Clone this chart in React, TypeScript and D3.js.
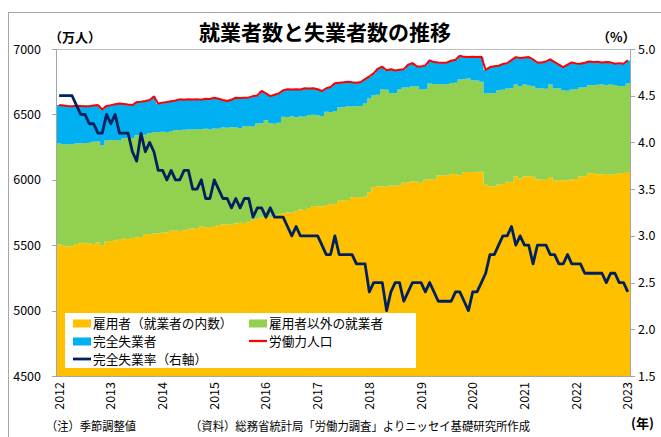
import React, { useRef, useEffect } from "react";
import * as d3 from "d3";

// monthly, seasonally adjusted, 2012/01 - 2023/01 (万人)
const employees = [
  5505, 5495, 5490, 5490, 5510, 5515, 5518, 5515, 5510, 5520, 5495, 5530, // 2012
  5532, 5535, 5548, 5550, 5548, 5555, 5560, 5562, 5585, 5580, 5590, 5592, // 2013
  5595, 5598, 5610, 5612, 5608, 5615, 5622, 5628, 5625, 5645, 5638, 5640, // 2014
  5642, 5655, 5658, 5660, 5656, 5665, 5672, 5670, 5680, 5695, 5698, 5712, // 2015
  5715, 5712, 5725, 5735, 5745, 5750, 5748, 5760, 5772, 5770, 5785, 5800, // 2016
  5798, 5795, 5808, 5812, 5815, 5840, 5842, 5845, 5865, 5868, 5866, 5870, // 2017
  5905, 5945, 5950, 5948, 5946, 5957, 5955, 5958, 5978, 5980, 5988, 5986, // 2018
  5978, 6000, 6002, 6001, 6032, 6035, 6034, 6042, 6044, 6034, 6058, 6060, // 2019
  6060, 6058, 6062, 5962, 5950, 5948, 5965, 5968, 5985, 5982, 6025, 6010, // 2020
  6026, 6028, 6024, 6002, 6000, 6001, 6021, 5995, 5992, 5996, 5994, 6005, // 2021
  6006, 6026, 6028, 6050, 6052, 6042, 6040, 6044, 6038, 6042, 6050, 6052, // 2022
  6059, // 2023
];

const employed = [
  6278, 6272, 6270, 6274, 6278, 6280, 6282, 6283, 6290, 6292, 6265, 6300,
  6302, 6305, 6300, 6318, 6322, 6320, 6340, 6342, 6345, 6358, 6366, 6364,
  6368, 6366, 6370, 6380, 6378, 6382, 6385, 6384, 6388, 6385, 6390, 6386,
  6392, 6390, 6400, 6398, 6402, 6400, 6396, 6410, 6412, 6408, 6430, 6432,
  6455, 6432, 6428, 6436, 6482, 6480, 6485, 6478, 6484, 6482, 6495, 6498,
  6494, 6488, 6520, 6518, 6522, 6553, 6555, 6562, 6560, 6562, 6564, 6583,
  6621, 6647, 6650, 6690, 6688, 6664, 6662, 6690, 6705, 6706, 6716, 6716,
  6690, 6692, 6736, 6732, 6730, 6728, 6730, 6741, 6742, 6767, 6768, 6775,
  6762, 6760, 6750, 6660, 6664, 6662, 6685, 6688, 6698, 6700, 6728, 6716,
  6728, 6720, 6716, 6698, 6700, 6696, 6728, 6698, 6700, 6682, 6680, 6690,
  6692, 6705, 6706, 6722, 6722, 6726, 6728, 6722, 6728, 6725, 6716, 6718,
  6736,
];

const laborForce = [
  6571, 6568, 6565, 6563, 6566, 6565, 6563, 6563, 6568, 6571, 6538, 6565,
  6571, 6578, 6584, 6580, 6575, 6571, 6594, 6596, 6602, 6610, 6636, 6584,
  6590, 6594, 6600, 6606, 6615, 6612, 6615, 6614, 6615, 6612, 6620, 6618,
  6628, 6620, 6610, 6602, 6612, 6628, 6626, 6628, 6630, 6640, 6645, 6679,
  6660, 6640, 6650, 6661, 6685, 6692, 6690, 6692, 6690, 6700, 6698, 6700,
  6692, 6679, 6700, 6710, 6739, 6742, 6745, 6749, 6745, 6742, 6748, 6770,
  6790, 6815, 6850, 6864, 6838, 6845, 6836, 6842, 6846, 6880, 6892, 6867,
  6867, 6875, 6913, 6900, 6897, 6895, 6897, 6910, 6918, 6949, 6940, 6938,
  6940, 6938, 6940, 6841, 6862, 6868, 6872, 6885, 6892, 6915, 6938, 6931,
  6935, 6938, 6920, 6897, 6897, 6905, 6921, 6900, 6880, 6862, 6880, 6897,
  6890, 6887, 6895, 6905, 6900, 6902, 6897, 6900, 6898, 6887, 6892, 6887,
  6913,
];

// 完全失業率 (%)
const unempRate = [
  4.5, 4.5, 4.5, 4.5, 4.4, 4.3, 4.3, 4.2, 4.2, 4.1, 4.1, 4.3,
  4.2, 4.3, 4.1, 4.1, 4.1, 3.9, 3.8, 4.1, 3.9, 4.0, 3.9, 3.7,
  3.7, 3.6, 3.7, 3.6, 3.6, 3.7, 3.7, 3.5, 3.5, 3.6, 3.4, 3.4,
  3.6, 3.5, 3.4, 3.4, 3.3, 3.4, 3.3, 3.4, 3.4, 3.2, 3.3, 3.3,
  3.2, 3.3, 3.2, 3.2, 3.2, 3.1, 3.0, 3.1, 3.0, 3.0, 3.0, 3.0,
  3.0, 2.9, 2.8, 2.8, 3.0, 2.8, 2.8, 2.8, 2.8, 2.7, 2.7, 2.7,
  2.4, 2.5, 2.5, 2.5, 2.2, 2.4, 2.5, 2.5, 2.3, 2.4, 2.5, 2.5,
  2.5, 2.4, 2.5, 2.4, 2.3, 2.3, 2.3, 2.3, 2.4, 2.4, 2.3, 2.2,
  2.4, 2.4, 2.5, 2.6, 2.8, 2.8, 2.9, 3.0, 3.0, 3.1, 2.9, 3.0,
  2.9, 2.9, 2.7, 2.9, 2.9, 2.9, 2.8, 2.8, 2.7, 2.7, 2.8, 2.7,
  2.7, 2.7, 2.6, 2.6, 2.6, 2.6, 2.6, 2.5, 2.6, 2.6, 2.5, 2.5,
  2.4,
];

const yearTicks = [2012, 2013, 2014, 2015, 2016, 2017, 2018, 2019, 2020, 2021, 2022, 2023];
const leftTicks = [4500, 5000, 5500, 6000, 6500, 7000];
const rightTicks = [1.5, 2.0, 2.5, 3.0, 3.5, 4.0, 4.5, 5.0];

const stackKeys = ["emp", "other", "unemp"];
const stackColors = ["#FFC000", "#92D050", "#00B0F0"];

const legendItems = [
  { label: "雇用者（就業者の内数）", color: "#FFC000", kind: "box", col: 0, row: 0 },
  { label: "雇用者以外の就業者", color: "#92D050", kind: "box", col: 1, row: 0 },
  { label: "完全失業者", color: "#00B0F0", kind: "box", col: 0, row: 1 },
  { label: "労働力人口", color: "#FF0000", kind: "line", col: 1, row: 1 },
  { label: "完全失業率（右軸）", color: "#002060", kind: "line", col: 0, row: 2 },
];

const FONT = "'Noto Sans CJK JP', 'Noto Sans', sans-serif";

export default function App() {
  const svgRef = useRef<SVGSVGElement>(null);

  useEffect(() => {
    const svg = d3.select(svgRef.current);
    svg.selectAll("*").remove();

    const left = 57, right = 630, top = 49, bottom = 376;
    const n = employees.length;

    const x = d3.scaleLinear().domain([-0.5, n - 0.5]).range([left, right]);
    const yL = d3.scaleLinear().domain([4500, 7000]).range([bottom, top]);
    const yR = d3.scaleLinear().domain([1.5, 5.0]).range([bottom, top]);

    // outer frame
    svg.append("rect")
      .attr("x", 8.5).attr("y", 12.5)
      .attr("width", 700).attr("height", 500)
      .attr("fill", "none").attr("stroke", "#a6a6a6");

    svg.append("defs").append("clipPath").attr("id", "plotClip")
      .append("rect")
      .attr("x", left).attr("y", top)
      .attr("width", right - left).attr("height", bottom - top);

    // stacked columns drawn as stepped areas
    const rows = employees.map((e, i) => ({
      emp: e,
      other: employed[i] - e,
      unemp: laborForce[i] - employed[i],
    }));
    const series = d3.stack().keys(stackKeys)(rows as any);

    const area = d3.area<any>()
      .x(d => x(d.x))
      .y0(d => yL(d.y0))
      .y1(d => yL(d.y1))
      .curve(d3.curveStepAfter);

    const g = svg.append("g").attr("clip-path", "url(#plotClip)");
    series.forEach((s, k) => {
      const pts = s.map((d, i) => ({ x: i - 0.5, y0: d[0], y1: d[1] }));
      pts.push({ x: n - 0.5, y0: s[n - 1][0], y1: s[n - 1][1] });
      g.append("path")
        .attr("d", area(pts))
        .attr("fill", stackColors[k]);
    });

    // labour force line
    g.append("path")
      .attr("d", d3.line<number>()
        .x((_, i) => x(i))
        .y(d => yL(d))(laborForce))
      .attr("fill", "none")
      .attr("stroke", "#FF0000")
      .attr("stroke-width", 2)
      .attr("stroke-linejoin", "round");

    // top border of plot, axes
    svg.append("line")
      .attr("x1", left).attr("x2", right)
      .attr("y1", top + 0.5).attr("y2", top + 0.5)
      .attr("stroke", "#bfbfbf");
    svg.append("line")
      .attr("x1", left).attr("x2", right)
      .attr("y1", bottom + 0.5).attr("y2", bottom + 0.5)
      .attr("stroke", "#a6a6a6");
    svg.append("line")
      .attr("x1", left - 0.5).attr("x2", left - 0.5)
      .attr("y1", top).attr("y2", bottom + 1)
      .attr("stroke", "#a6a6a6");
    svg.append("line")
      .attr("x1", right + 0.5).attr("x2", right + 0.5)
      .attr("y1", top).attr("y2", bottom + 1)
      .attr("stroke", "#a6a6a6");

    leftTicks.forEach(t => {
      svg.append("line")
        .attr("x1", left - 5).attr("x2", left)
        .attr("y1", Math.round(yL(t)) + 0.5).attr("y2", Math.round(yL(t)) + 0.5)
        .attr("stroke", "#a6a6a6");
      svg.append("text")
        .attr("x", 41).attr("y", yL(t))
        .attr("dy", "0.36em")
        .attr("text-anchor", "end")
        .style("font-family", FONT).style("font-size", "12.5px")
        .attr("fill", "#000")
        .text(t);
    });
    rightTicks.forEach(t => {
      svg.append("line")
        .attr("x1", right).attr("x2", right + 5)
        .attr("y1", Math.round(yR(t)) + 0.5).attr("y2", Math.round(yR(t)) + 0.5)
        .attr("stroke", "#a6a6a6");
      svg.append("text")
        .attr("x", 638).attr("y", yR(t))
        .attr("dy", "0.36em")
        .style("font-family", FONT).style("font-size", "12.5px")
        .attr("fill", "#000")
        .text(t.toFixed(1));
    });

    yearTicks.forEach(yr => {
      const mx = x((yr - yearTicks[0]) * 12);
      svg.append("text")
        .attr("transform", `translate(${mx},382) rotate(-90)`)
        .attr("dy", "0.36em")
        .attr("text-anchor", "end")
        .style("font-family", FONT).style("font-size", "12.5px")
        .attr("fill", "#000")
        .text(yr);
    });

    // unemployment rate (right axis)
    svg.append("path")
      .attr("d", d3.line<number>()
        .x((_, i) => x(i))
        .y(d => yR(d))(unempRate))
      .attr("fill", "none")
      .attr("stroke", "#002060")
      .attr("stroke-width", 2.8)
      .attr("stroke-linejoin", "round");

    // legend
    const lg = svg.append("g");
    lg.append("rect")
      .attr("x", 65).attr("y", 313)
      .attr("width", 351).attr("height", 55)
      .attr("fill", "#fff");
    legendItems.forEach(it => {
      const lx = it.col === 0 ? 73 : 249;
      const ly = 323 + it.row * 18;
      if (it.kind === "box") {
        lg.append("rect")
          .attr("x", lx).attr("y", ly - 3.5)
          .attr("width", 18).attr("height", 8)
          .attr("fill", it.color);
      } else {
        lg.append("line")
          .attr("x1", lx).attr("x2", lx + 18)
          .attr("y1", ly).attr("y2", ly)
          .attr("stroke", it.color)
          .attr("stroke-width", it.color === "#002060" ? 2.8 : 2.2);
      }
      lg.append("text")
        .attr("x", lx + 20).attr("y", ly)
        .attr("dy", "0.36em")
        .style("font-family", FONT).style("font-size", "12.7px")
        .attr("fill", "#000")
        .text(it.label);
    });

    // titles and notes
    svg.append("text")
      .attr("x", 325).attr("y", 40)
      .attr("text-anchor", "middle")
      .style("font-family", FONT).style("font-size", "21px")
      .style("font-weight", "bold")
      .text("就業者数と失業者数の推移");
    svg.append("text")
      .attr("x", 49).attr("y", 42)
      .style("font-family", FONT).style("font-size", "13px")
      .style("font-weight", "bold")
      .text("（万人）");
    svg.append("text")
      .attr("x", 597).attr("y", 42)
      .style("font-family", FONT).style("font-size", "13px")
      .style("font-weight", "bold")
      .text("（%）");
    svg.append("text")
      .attr("x", 631).attr("y", 428)
      .style("font-family", FONT).style("font-size", "13px")
      .style("font-weight", "bold")
      .text("(年)");
    svg.append("text")
      .attr("x", 46).attr("y", 431)
      .attr("textLength", 90).attr("lengthAdjust", "spacingAndGlyphs")
      .style("font-family", FONT).style("font-size", "12px")
      .text("（注）季節調整値");
    svg.append("text")
      .attr("x", 190).attr("y", 431)
      .attr("textLength", 340).attr("lengthAdjust", "spacingAndGlyphs")
      .style("font-family", FONT).style("font-size", "12px")
      .text("（資料）総務省統計局「労働力調査」よりニッセイ基礎研究所作成");
  }, []);

  return (
    <svg
      ref={svgRef}
      width={661}
      height={437}
      style={{ position: "absolute", left: 0, top: 0, background: "#fff" }}
    />
  );
}
